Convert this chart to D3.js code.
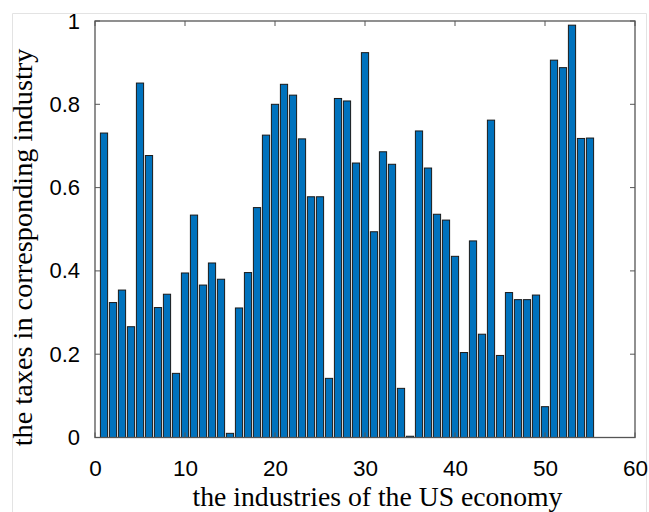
<!DOCTYPE html>
<html>
<head>
<meta charset="utf-8">
<script src="https://cdn.jsdelivr.net/npm/d3@7"></script>
<style>
html,body{margin:0;padding:0;background:#fff;}
svg{display:block;}
</style>
</head>
<body>
<svg id="chart" width="649" height="512"></svg>
<script>
const industries = d3.range(1, 56);
const taxes = [
  0.731, 0.324, 0.354, 0.266, 0.851, 0.677, 0.312, 0.344, 0.154, 0.395,
  0.534, 0.366, 0.419, 0.380, 0.010, 0.311, 0.396, 0.552, 0.726, 0.800,
  0.848, 0.822, 0.717, 0.578, 0.578, 0.142, 0.814, 0.808, 0.659, 0.924,
  0.494, 0.686, 0.656, 0.118, 0.003, 0.736, 0.647, 0.536, 0.522, 0.435,
  0.204, 0.472, 0.248, 0.762, 0.197, 0.348, 0.331, 0.331, 0.342, 0.074,
  0.906, 0.888, 0.990, 0.718, 0.719
];
const xTicks = [0, 10, 20, 30, 40, 50, 60];
const yTicks = [0, 0.2, 0.4, 0.6, 0.8, 1];
const xLabel = "the industries of the US economy";
const yLabel = "the taxes in corresponding industry";

(function () {
const svg = d3.select("#chart");
const W = 649, H = 512;
const pLeft = 95, pRight = 635, pTop = 21, pBottom = 437.5;

// light figure frame
svg.append("path")
  .attr("d", `M12.5,${H} L12.5,13.5 L646.5,13.5 L646.5,${H}`)
  .attr("fill", "none").attr("stroke", "#e3e3e3").attr("stroke-width", 1);

const x = d3.scaleLinear().domain([0, 60]).range([pLeft, pRight]);
const y = d3.scaleLinear().domain([0, 1]).range([pBottom, pTop]);
const bw = (x(0.8) - x(0));

// bars
svg.append("g").selectAll("rect").data(industries).join("rect")
  .attr("x", (d) => x(d) - bw / 2)
  .attr("width", bw)
  .attr("y", (d, i) => y(taxes[i]))
  .attr("height", (d, i) => pBottom - y(taxes[i]))
  .attr("fill", "#0072BD")
  .attr("stroke", "#1a1a1a")
  .attr("stroke-width", 1);

const axisColor = "#555";
const tickFont = "'Liberation Sans', Arial, Helvetica, sans-serif";

// bottom axis
const gx = svg.append("g").attr("transform", `translate(0,${pBottom})`)
  .call(d3.axisBottom(x).tickValues(xTicks).tickSize(0).tickPadding(22.5).tickFormat(d3.format("d")));
gx.select(".domain").remove();
gx.selectAll("text").attr("font-family", tickFont).attr("font-size", 22.5).attr("fill", "#000");

// left axis
const gy = svg.append("g").attr("transform", `translate(${pLeft},0)`)
  .call(d3.axisLeft(y).tickValues(yTicks).tickSize(0).tickPadding(15).tickFormat((d) => d === 0 ? "0" : d === 1 ? "1" : d3.format(".1f")(d)));
gy.select(".domain").remove();
gy.selectAll("text").attr("font-family", tickFont).attr("font-size", 22).attr("fill", "#000");

// box
svg.append("rect")
  .attr("x", pLeft).attr("y", pTop).attr("width", pRight - pLeft).attr("height", pBottom - pTop)
  .attr("fill", "none").attr("stroke", axisColor).attr("stroke-width", 1.3);

// inward ticks on all sides
const tl = 5;
const tg = svg.append("g").attr("stroke", axisColor).attr("stroke-width", 1);
xTicks.forEach((t) => {
  tg.append("line").attr("x1", x(t)).attr("x2", x(t)).attr("y1", pBottom).attr("y2", pBottom - tl);
  tg.append("line").attr("x1", x(t)).attr("x2", x(t)).attr("y1", pTop).attr("y2", pTop + tl);
});
yTicks.forEach((t) => {
  tg.append("line").attr("x1", pLeft).attr("x2", pLeft + tl).attr("y1", y(t)).attr("y2", y(t));
  tg.append("line").attr("x1", pRight).attr("x2", pRight - tl).attr("y1", y(t)).attr("y2", y(t));
});

const serif = "'Liberation Serif', 'Times New Roman', Times, serif";
svg.append("text")
  .attr("x", 377.5).attr("y", 505.5)
  .attr("text-anchor", "middle")
  .attr("font-family", serif).attr("font-size", 27.7)
  .attr("fill", "#000")
  .text(xLabel);

svg.append("text")
  .attr("transform", `translate(32,247.5) rotate(-90)`)
  .attr("text-anchor", "middle")
  .attr("font-family", serif).attr("font-size", 28.3)
  .attr("fill", "#000")
  .text(yLabel);
})();
</script>
</body>
</html>
